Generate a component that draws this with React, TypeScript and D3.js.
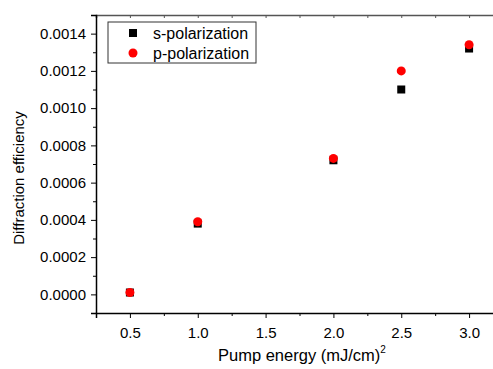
import React, { useEffect, useRef } from "react";
import * as d3 from "d3";

const energy = [0.5, 1.0, 2.0, 2.5, 3.0];
const sPolar = [0.00001, 0.00038, 0.00072, 0.0011, 0.00132];
const pPolar = [0.00001, 0.00039, 0.00073, 0.0012, 0.00134];
const xTicks = [0.5, 1.0, 1.5, 2.0, 2.5, 3.0];
const yTicks = [0, 0.0002, 0.0004, 0.0006, 0.0008, 0.001, 0.0012, 0.0014];
const seriesNames = ["s-polarization", "p-polarization"];

const W = 493, H = 369;
const margin = { top: 15, left: 96, bottom: 56, right: -10 };
const FONT = "Arial, 'Liberation Sans', sans-serif";

export default function App() {
  const ref = useRef<SVGSVGElement>(null);

  useEffect(() => {
    const svg = d3.select(ref.current);
    svg.selectAll("*").remove();
    const w = W - margin.left - margin.right;
    const h = H - margin.top - margin.bottom;

    const x = d3.scaleLinear().domain([0.25, 3.25]).range([0, w]);
    const y = d3.scaleLinear().domain([-0.0001, 0.0015]).range([h, 0]);

    const g = svg.append("g").attr("transform", `translate(${margin.left},${margin.top})`);

    // top frame, ticks point inward
    const top = g.append("g").call(
      d3.axisTop(x).tickValues(d3.range(0.25, 3.3, 0.25)).tickSize(-3).tickFormat(() => "")
    );
    top.select(".domain").attr("stroke", "#555").attr("stroke-width", 1.5);
    top.selectAll(".tick line").attr("stroke", "#555");

    // bottom axis
    const minorX = d3.range(0.25, 3.3, 0.25).filter(v => Math.abs(v * 2 - Math.round(v * 2)) > 0.01);
    g.append("g").attr("transform", `translate(0,${h})`)
      .call(d3.axisBottom(x).tickValues(minorX).tickSize(3).tickFormat(() => ""))
      .call(a => a.select(".domain").remove());
    const xa = g.append("g").attr("transform", `translate(0,${h})`)
      .call(d3.axisBottom(x).tickValues(xTicks).tickSize(5).tickPadding(9).tickFormat(d3.format(".1f")));
    xa.select(".domain").attr("stroke-width", 1.5);
    xa.selectAll("text").attr("font-size", 15).attr("font-family", FONT).attr("fill", "#000");

    // left axis
    const minorY = d3.range(-0.0001, 0.00151, 0.0002);
    g.append("g")
      .call(d3.axisLeft(y).tickValues(minorY).tickSize(3).tickFormat(() => ""))
      .call(a => a.select(".domain").remove());
    const ya = g.append("g")
      .call(d3.axisLeft(y).tickValues(yTicks).tickSize(5).tickPadding(5).tickFormat(d3.format(".4f")));
    ya.select(".domain").attr("stroke-width", 1.5);
    ya.selectAll("text").attr("font-size", 15).attr("font-family", FONT).attr("fill", "#000");

    // points
    g.selectAll("rect.s").data(energy).join("rect").attr("class", "s")
      .attr("x", (d) => x(d) - 4).attr("y", (d, i) => y(sPolar[i]) - 4)
      .attr("width", 8).attr("height", 8).attr("fill", "#000");
    g.selectAll("circle.p").data(energy).join("circle").attr("class", "p")
      .attr("cx", (d) => x(d)).attr("cy", (d, i) => y(pPolar[i]))
      .attr("r", 4.5).attr("fill", "#ff0000");

    // legend
    const lg = svg.append("g").attr("transform", "translate(108,22)");
    lg.append("rect").attr("width", 148).attr("height", 41)
      .attr("fill", "#fff").attr("stroke", "#333").attr("stroke-width", 1);
    lg.append("rect").attr("x", 21).attr("y", 7).attr("width", 8).attr("height", 8).attr("fill", "#000");
    lg.append("circle").attr("cx", 25).attr("cy", 31).attr("r", 4.5).attr("fill", "#ff0000");
    seriesNames.forEach((n, i) => {
      lg.append("text").attr("x", 45).attr("y", 11 + i * 20).attr("dy", "0.35em")
        .attr("font-size", 16).attr("font-family", FONT).text(n);
    });

    // titles
    const xt = svg.append("text").attr("x", 218).attr("y", 361)
      .attr("font-size", 16.5).attr("font-family", FONT);
    xt.append("tspan").text("Pump energy (mJ/cm)");
    xt.append("tspan").attr("font-size", 10).attr("dy", -8).text("2");

    svg.append("text").attr("transform", `translate(24,${margin.top + h / 2 + 14}) rotate(-90)`)
      .attr("text-anchor", "middle").attr("font-size", 15).attr("font-family", FONT)
      .text("Diffraction efficiency");
  }, []);

  return (
    <svg ref={ref} width={W} height={H}
      style={{ position: "absolute", left: 0, top: 0, background: "#fff" }} />
  );
}
